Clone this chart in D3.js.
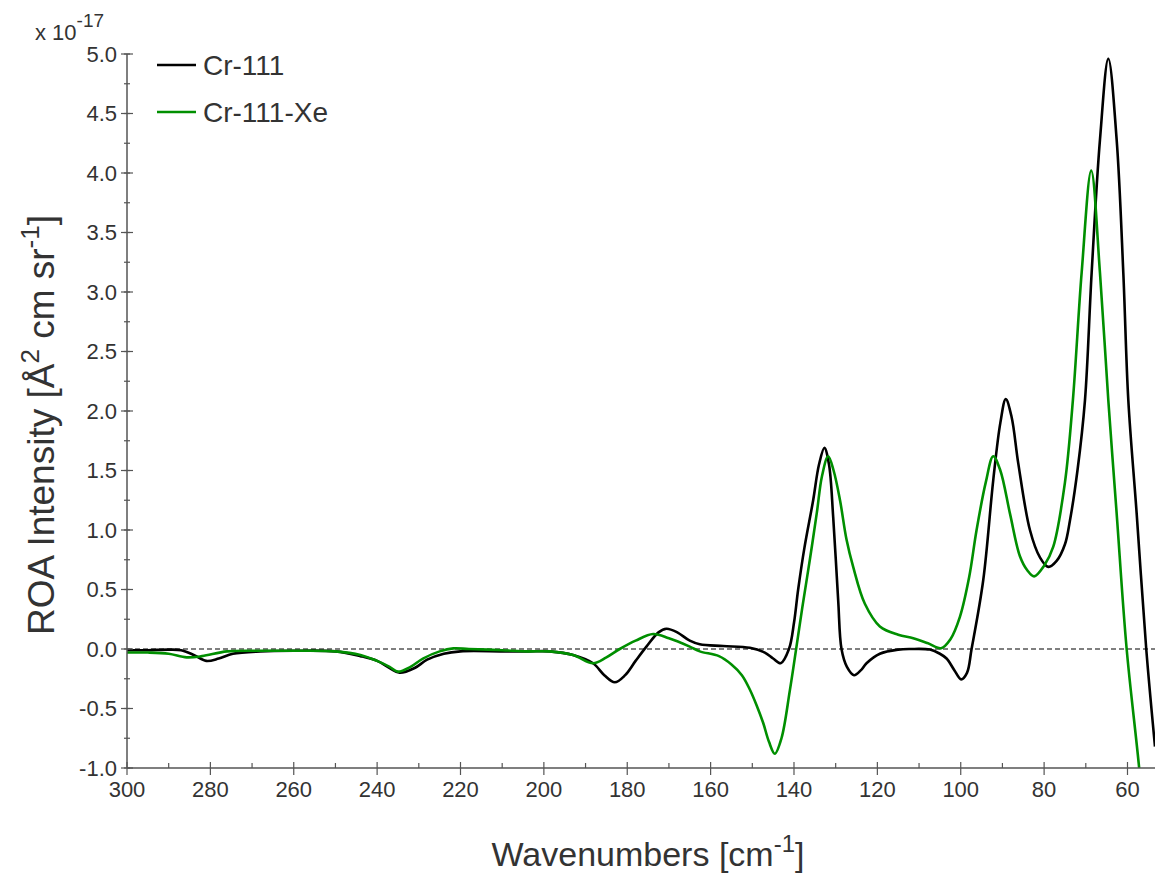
<!DOCTYPE html>
<html>
<head>
<meta charset="utf-8">
<script src="https://cdn.jsdelivr.net/npm/d3@7"></script>
<style>
  html, body { margin: 0; padding: 0; background: #fff; }
  svg { display: block; font-family: "Liberation Sans", Arial, Helvetica, sans-serif; }
</style>
</head>
<body>
<svg id="chart" width="1155" height="875"></svg>
<script>
// ---- data (intensity in units of 1e-17 Å^2 cm sr^-1) ----
const seriesNames = ["Cr-111", "Cr-111-Xe"];
const seriesColors = ["#000000", "#008f00"];

const crWave = [300, 295, 290, 287, 284, 281, 278, 274.6, 268, 260, 250, 244, 240, 237, 234.6, 231, 228, 224, 220, 210, 203.8, 198.6, 193, 188.2, 185.5, 183, 180.5, 178, 175.4, 172.5, 170.6, 168, 165, 162.6, 157, 150.6, 147, 145, 143.2, 141.2, 140, 139, 137.5, 135.4, 134, 132.7, 131.6, 130.6, 129.4, 128.6, 127.3, 125.6, 124, 122.6, 119.4, 115, 112, 107.4, 105, 103.4, 101.5, 99.9, 98.5, 97.4, 94.6, 92.2, 90.5, 89.2, 87.8, 86.2, 83.4, 81, 79, 77, 75, 73.8, 72, 70.2, 68.6, 66.6, 64.6, 62.6, 61.0, 59.8, 57.8, 55.5, 53.4];
const crValue = [-0.01, -0.01, -0.005, -0.01, -0.05, -0.10, -0.08, -0.04, -0.02, -0.015, -0.02, -0.06, -0.10, -0.16, -0.20, -0.16, -0.09, -0.04, -0.02, -0.02, -0.02, -0.02, -0.05, -0.12, -0.22, -0.28, -0.22, -0.10, 0.02, 0.14, 0.17, 0.14, 0.07, 0.04, 0.025, 0.01, -0.03, -0.08, -0.12, 0.0, 0.22, 0.50, 0.85, 1.25, 1.55, 1.69, 1.55, 1.11, 0.41, 0.0, -0.15, -0.22, -0.18, -0.12, -0.04, -0.005, 0.0, -0.005, -0.04, -0.08, -0.18, -0.255, -0.20, 0.0, 0.58, 1.42, 1.90, 2.10, 1.95, 1.56, 1.0, 0.77, 0.69, 0.74, 0.88, 1.08, 1.50, 2.09, 3.16, 4.28, 4.96, 4.28, 3.16, 2.09, 1.14, 0.0, -0.82];

const xeWave = [300, 295, 290, 285.7, 282, 276, 268, 260, 250, 244, 240, 237, 235, 232, 229, 225, 221.7, 218, 210, 203.8, 198.6, 193, 188.2, 185, 181.8, 178, 173.8, 170, 165, 162.6, 158, 155, 152.5, 150.6, 149, 147.4, 146, 144.6, 143, 141, 139.4, 138, 136.2, 134.5, 133.3, 131.8, 130.5, 128.96, 127.4, 125.8, 123, 119.4, 115, 111.4, 108, 104.7, 102.5, 100.2, 98, 96.2, 94, 92.2, 90.5, 88.2, 85.8, 84, 82.4, 80, 77.8, 75, 73.1, 71, 68.7, 66.6, 64.6, 62.6, 60.2, 57.2, 56];
const xeValue = [-0.03, -0.03, -0.04, -0.07, -0.06, -0.02, -0.015, -0.015, -0.02, -0.05, -0.10, -0.15, -0.19, -0.15, -0.08, -0.02, 0.005, 0.0, -0.01, -0.02, -0.02, -0.05, -0.12, -0.07, 0.0, 0.07, 0.126, 0.09, 0.02, -0.02, -0.06, -0.13, -0.22, -0.34, -0.47, -0.62, -0.78, -0.88, -0.75, -0.35, 0.02, 0.35, 0.75, 1.15, 1.45, 1.62, 1.50, 1.25, 0.92, 0.69, 0.38, 0.19, 0.12, 0.09, 0.05, 0.006, 0.08, 0.27, 0.60, 1.0, 1.40, 1.62, 1.50, 1.14, 0.78, 0.66, 0.61, 0.70, 0.86, 1.40, 2.09, 3.16, 4.02, 3.16, 2.09, 1.14, 0.0, -1.0, -1.5];

const xTickValues = [300, 280, 260, 240, 220, 200, 180, 160, 140, 120, 100, 80, 60];
const yTickValues = [-1.0, -0.5, 0.0, 0.5, 1.0, 1.5, 2.0, 2.5, 3.0, 3.5, 4.0, 4.5, 5.0];
const xDomain = [300, 53.4];
const yDomain = [-1.0, 5.0];

// ---- layout ----
const svg = d3.select("#chart");
const pLeft = 127, pRight = 1155, pTop = 54, pBottom = 768;
const x = d3.scaleLinear().domain(xDomain).range([pLeft, pRight]);
const y = d3.scaleLinear().domain(yDomain).range([pBottom, pTop]);
const textColor = "#333";
const axisColor = "#555";

svg.append("defs").append("clipPath").attr("id", "plotclip")
  .append("rect").attr("x", pLeft).attr("y", pTop - 10).attr("width", pRight - pLeft).attr("height", pBottom - pTop + 10);

// zero line
svg.append("line")
  .attr("x1", pLeft).attr("x2", pRight)
  .attr("y1", y(0)).attr("y2", y(0))
  .attr("stroke", "#000").attr("stroke-width", 1.2)
  .attr("stroke-dasharray", "5,3");

// curves
const line = d3.line().x(d => x(d[0])).y(d => y(d[1])).curve(d3.curveCatmullRom.alpha(0.5));
const crData = crWave.map((w, i) => [w, crValue[i]]);
const xeData = xeWave.map((w, i) => [w, xeValue[i]]);
const g = svg.append("g").attr("clip-path", "url(#plotclip)");
g.append("path").datum(crData).attr("d", line)
  .attr("fill", "none").attr("stroke", seriesColors[0]).attr("stroke-width", 2.6);
g.append("path").datum(xeData).attr("d", line)
  .attr("fill", "none").attr("stroke", seriesColors[1]).attr("stroke-width", 2.6);

// y axis
const yAxisG = svg.append("g");
yAxisG.append("line").attr("x1", pLeft).attr("x2", pLeft).attr("y1", pTop).attr("y2", pBottom)
  .attr("stroke", axisColor).attr("stroke-width", 1.5);
const yMinor = d3.range(-1.0, 5.001, 0.25);
yAxisG.selectAll("line.ymin").data(yMinor).enter().append("line")
  .attr("x1", pLeft - 3).attr("x2", pLeft + 3)
  .attr("y1", d => y(d)).attr("y2", d => y(d))
  .attr("stroke", axisColor).attr("stroke-width", 1.2);
yAxisG.selectAll("line.ymaj").data(yTickValues).enter().append("line")
  .attr("x1", pLeft - 6).attr("x2", pLeft + 6)
  .attr("y1", d => y(d)).attr("y2", d => y(d))
  .attr("stroke", axisColor).attr("stroke-width", 1.2);
yAxisG.selectAll("text").data(yTickValues).enter().append("text")
  .attr("x", pLeft - 10).attr("y", d => y(d)).attr("dy", "0.36em")
  .attr("text-anchor", "end").attr("font-size", 22).attr("fill", textColor)
  .text(d => d3.format(".1f")(d).replace("−", "-"));

// x axis
const xAxisG = svg.append("g");
xAxisG.append("line").attr("x1", pLeft).attr("x2", pRight).attr("y1", pBottom).attr("y2", pBottom)
  .attr("stroke", axisColor).attr("stroke-width", 1.5);
const xMinor = d3.range(290, 53, -20);
xAxisG.selectAll("line.xmin").data(xMinor).enter().append("line")
  .attr("x1", d => x(d)).attr("x2", d => x(d))
  .attr("y1", pBottom - 5).attr("y2", pBottom)
  .attr("stroke", axisColor).attr("stroke-width", 1.2);
xAxisG.selectAll("line.xmaj").data(xTickValues).enter().append("line")
  .attr("x1", d => x(d)).attr("x2", d => x(d))
  .attr("y1", pBottom - 6).attr("y2", pBottom + 7)
  .attr("stroke", axisColor).attr("stroke-width", 1.2);
xAxisG.selectAll("text").data(xTickValues).enter().append("text")
  .attr("x", d => x(d)).attr("y", pBottom + 29)
  .attr("text-anchor", "middle").attr("font-size", 22).attr("fill", textColor)
  .text(d => d);

// exponent label
const expT = svg.append("text").attr("x", 35).attr("y", 40).attr("font-size", 22).attr("fill", textColor);
expT.append("tspan").text("x 10");
expT.append("tspan").attr("dy", -13).attr("font-size", 19).text("-17");

// x title
const xt = svg.append("text").attr("x", 648).attr("y", 866).attr("text-anchor", "middle")
  .attr("font-size", 34).attr("fill", textColor);
xt.append("tspan").text("Wavenumbers [cm");
xt.append("tspan").attr("dy", -14).attr("font-size", 24).text("-1");
xt.append("tspan").attr("dy", 14).text("]");

// y title
const yt = svg.append("text").attr("transform", "translate(54,425) rotate(-90)")
  .attr("text-anchor", "middle").attr("font-size", 37).attr("fill", textColor);
yt.append("tspan").text("ROA Intensity [Å");
yt.append("tspan").attr("dy", -15).attr("font-size", 26).text("2");
yt.append("tspan").attr("dy", 15).text(" cm sr");
yt.append("tspan").attr("dy", -15).attr("font-size", 26).text("-1");
yt.append("tspan").attr("dy", 15).text("]");

// legend
const legendY = [65, 112];
seriesNames.forEach((name, i) => {
  svg.append("line").attr("x1", 157).attr("x2", 196)
    .attr("y1", legendY[i]).attr("y2", legendY[i])
    .attr("stroke", seriesColors[i]).attr("stroke-width", 2.6);
  svg.append("text").attr("x", 203).attr("y", legendY[i]).attr("dy", "0.36em")
    .attr("font-size", 28).attr("fill", textColor).text(name);
});
</script>
</body>
</html>
